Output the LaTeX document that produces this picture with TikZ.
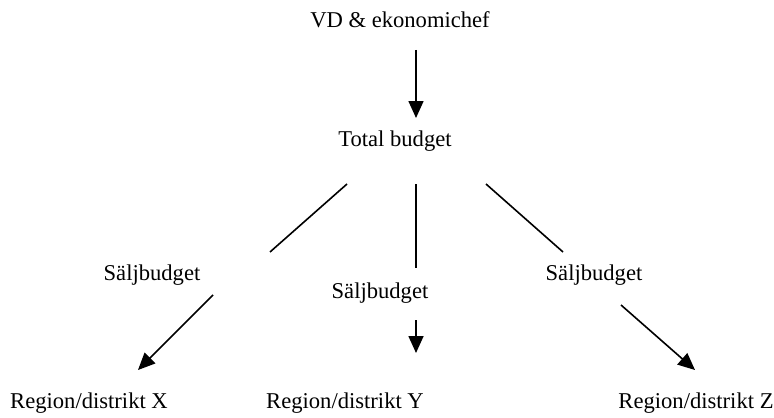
\documentclass[tikz,border=0pt]{standalone}
\usepackage{fontspec}
\setmainfont{Liberation Serif}
\usetikzlibrary{arrows.meta}
\begin{document}
\begin{tikzpicture}[x=0.5pt,y=-0.5pt,
  lbl/.style={font=\fontsize{11.3}{13}\selectfont, inner sep=0pt},
  conn/.style={line width=0.8pt},
  arr/.style={conn,-{Triangle[length=8.5pt,width=7.5pt]}}]
\useasboundingbox (0,0) rectangle (774,417);
\node[lbl] (vd) at (400,20) {VD \& ekonomichef};
\node[lbl] (tot) at (395,141) {Total budget};
\node[lbl] (s1) at (152,275) {Säljbudget};
\node[lbl] (s2) at (380,293) {Säljbudget};
\node[lbl] (s3) at (594,275) {Säljbudget};
\node[lbl] (rx) at (89,403) {Region/distrikt X};
\node[lbl] (ry) at (345,403) {Region/distrikt Y};
\node[lbl] (rz) at (696,403) {Region/distrikt Z};
\coordinate (a1) at (416,50);
\coordinate (a2) at (416,118);
\coordinate (l1a) at (347,184);
\coordinate (l1b) at (270,252);
\coordinate (l2a) at (416,184);
\coordinate (l2b) at (416,268);
\coordinate (l3a) at (486,184);
\coordinate (l3b) at (563,252);
\coordinate (b1a) at (213,295);
\coordinate (b1b) at (138,370);
\coordinate (b2a) at (416,320);
\coordinate (b2b) at (416,353);
\coordinate (b3a) at (621,305);
\coordinate (b3b) at (695,370);
\draw[arr] (a1) -- (a2);
\draw[conn] (l1a) -- (l1b);
\draw[conn] (l2a) -- (l2b);
\draw[conn] (l3a) -- (l3b);
\draw[arr] (b1a) -- (b1b);
\draw[arr] (b2a) -- (b2b);
\draw[arr] (b3a) -- (b3b);
\end{tikzpicture}
\end{document}
